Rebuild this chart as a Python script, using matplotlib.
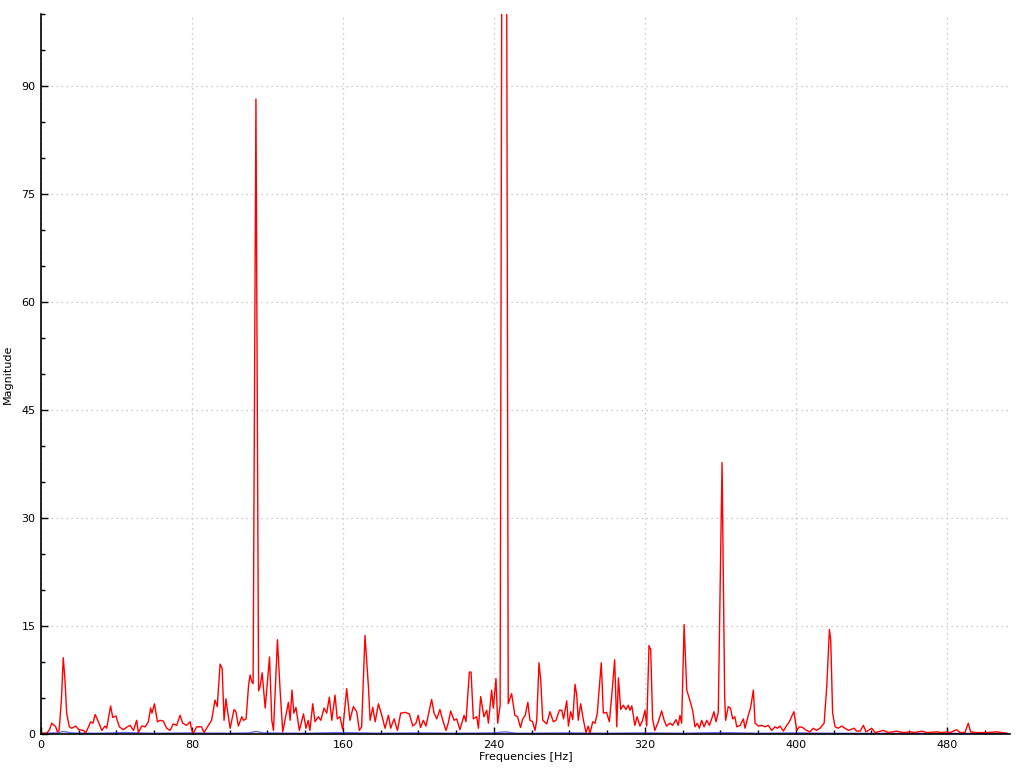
import matplotlib
matplotlib.use("Agg")
import matplotlib.pyplot as plt
from matplotlib.ticker import MultipleLocator

# Red spectrum: (frequency [Hz], magnitude)
red_freq = [0, 3, 4.5, 5.7, 7.8, 8.7, 9.6, 10.8, 11.8, 12.7, 13.6, 15, 16.3, 18.4, 20, 22.6, 23.5,
            25.4, 26.3, 27.5, 28.7, 30.4, 32.2, 33.9, 34.8, 36.9, 38, 39.7, 41.5, 43.6, 45.8, 47.2,
            49, 50.7, 51.6, 53.4, 55.2, 56.9, 58.1, 58.8, 60.1, 61.7, 63.1, 64.8, 66.6, 68.4, 70.1,
            71.9, 73.7, 75.1, 77.2, 79, 79.8, 80.7, 82.5, 85.1,
            86.4, 88.7, 90.4, 92.2, 93.4, 94.9, 96, 97, 98, 98.8, 100.2, 102.3, 103.3, 104.6, 106.4,
            107.3, 108.7, 110, 110.8, 111.6, 112.4, 113.9, 115.3, 116.1, 117.2, 118.8, 121.1, 122.3,
            123.2, 125.3, 126.7, 128.1, 129.8, 131.1, 132, 133, 134, 135.1, 136.9, 139.1, 140.4,
            141.6, 142.5, 144, 145.2, 147, 148.3, 150, 151.4, 152.8, 154.1, 155.8, 157, 158.4, 159.9,
            162, 163.7, 165.5, 167.3, 168.7, 169.9, 171.7, 173.5, 174.4, 175.8, 177.1, 178.8, 180.6,
            182.3, 184.1, 185.3, 187.1, 188.9, 190.6, 193, 195.2, 197, 198.7, 199.9, 201.1, 202.6,
            204, 205.2, 207, 208.3, 209.7, 211.4, 212.9, 214.6, 215.8, 217.1, 218.9, 220.3, 222,
            224.2, 225.2, 227, 227.9, 229.1, 230.9, 231.8, 233, 234.7, 236.2, 237.1, 238.8, 239.7,
            241.1, 242, 243.3, 245, 246, 247.6, 249.4, 251.1, 252.5, 254.1, 255.3, 256.6, 258,
            259.1, 260.5, 261.8, 262.7, 263.9, 264.8, 265.9, 268, 269.7, 271.5, 272.9, 274.7, 276,
            276.9, 278.6, 279.5, 280.7, 281.8, 283, 283.9, 284.7, 286, 287.4, 288.8, 290, 290.9,
            292.4, 293.6, 294.8, 295.9, 296.9, 298, 299.7, 301.2, 302.6, 304, 305.1, 306, 307.2,
            308.6, 310, 311.2, 312.1, 313.1, 314.7, 315.9, 317.4, 318.8, 320.1, 321, 322.2, 323.1,
            324.1, 325.3, 327.1, 328.9, 330.1, 331.5, 333.3, 334.7, 336.5, 337.7, 338.6, 339.5,
            340.8, 342.2, 343.6, 345.3, 346.6, 347.8, 348.9, 350.1, 351.4, 352.8, 354.2, 355.4,
            356.6, 357.7, 358.9, 360.9, 362.3, 362.8, 364.2, 365.4, 366.5, 367.7, 368.7, 370.5,
            372.2, 373.1, 374.8, 376, 377.5, 378.4, 380.2, 381.9, 383.7, 385.4, 387.2, 389, 390.2,
            391.6, 393.4, 395.2, 396.6, 397.9, 399, 400.5, 401.9, 403.6, 405.7, 407.5, 409.3, 411,
            412.8, 415, 416.4, 417.8, 418.5, 419.5, 420.8, 422.5, 424.3, 426, 427.9, 430.8, 432.2,
            434.1, 435.8, 437.2, 440.2, 442, 446.4, 449, 453.4, 456.9, 460.4, 463, 466.7, 469.4,
            474.7, 477.3, 480, 481.8, 485.2, 487, 489.6, 491.4, 492.6, 495.8, 501.1, 506.4, 511.7]
red_mag = [0.1, 0.1, 0.6, 1.5, 1.0, 0.3, 0.5, 4.7, 10.6, 7.5, 2.9, 1.0, 0.8, 1.1, 0.6, 0.5, 0.1,
           1.1, 1.7, 1.5, 2.7, 1.7, 0.5, 1.1, 0.8, 3.9, 2.3, 2.5, 1.0, 0.6, 1.0, 1.2,
           0.5, 1.9, 0.2, 1.1, 1.0, 1.7, 3.6, 2.9, 4.2, 1.7, 1.9, 1.8, 0.8, 0.5, 1.4,
           1.2, 2.6, 1.5, 1.2, 1.7, 0.6, 0.1, 1.0, 1.0,
           0.2, 1.2, 1.9, 4.7, 3.8, 9.7, 9.1, 1.9, 4.9, 3.3, 0.8, 3.4, 3.1, 1.1, 2.4,
           1.9, 2.1, 6.8, 8.2, 7.3, 7.0, 88.2, 6.0, 6.6, 8.5, 3.6, 10.7, 1.9,
           0.5, 13.1, 6.1, 0.3, 2.6, 4.4, 1.9, 6.1, 2.9, 3.7, 0.5, 2.8, 0.8,
           1.9, 0.5, 4.2, 1.7, 2.4, 1.9, 3.6, 2.9, 5.1, 1.9, 5.4, 2.1, 2.4, 0.6,
           6.3, 1.9, 3.8, 3.1, 0.5, 1.0, 13.7, 6.6, 1.9, 3.7, 1.7, 4.2, 2.6,
           0.8, 2.6, 0.8, 2.1, 0.5, 2.9, 3.0, 2.8, 1.1, 1.5, 2.6, 0.9, 1.9,
           1.1, 2.6, 4.8, 2.9, 2.1, 3.4, 1.9, 0.5, 1.5, 3.2, 1.9, 2.1, 0.6,
           2.6, 1.7, 8.6, 8.6, 2.1, 2.4, 0.8, 5.2, 2.4, 3.3, 1.5, 6.1, 3.6,
           7.7, 1.5, 4.0, 200.0, 200.0, 4.2, 5.6, 2.6, 2.4, 0.9, 2.1, 2.6, 4.4,
           1.9, 1.7, 0.5, 1.9, 9.9, 7.5, 1.9, 1.4, 3.1, 1.7, 1.9, 3.3, 3.3,
           2.1, 4.6, 1.1, 3.1, 2.0, 6.9, 5.4, 1.9, 4.2, 2.0, 0.2, 1.1, 0.1,
           1.7, 1.5, 2.9, 6.6, 9.9, 2.9, 3.0, 1.7, 5.8, 10.3, 1.0, 7.8, 3.4,
           4.0, 3.4, 4.0, 3.3, 3.9, 1.2, 2.4, 1.1, 1.9, 3.3, 1.1, 12.3, 11.7,
           2.1, 0.5, 1.7, 3.2, 2.0, 1.1, 1.5, 1.2, 2.0, 1.2, 2.6, 1.5,
           15.2, 6.1, 4.9, 3.3, 1.0, 1.5, 0.8, 1.9, 1.0, 1.9, 1.2, 2.1,
           3.1, 1.7, 3.0, 37.7, 5.0, 1.9, 3.8, 3.6, 2.1, 2.4, 1.0, 1.2,
           2.1, 0.8, 2.6, 3.6, 6.1, 1.5, 1.1, 1.2, 1.0, 1.2, 0.5, 1.0, 0.8,
           1.1, 0.4, 1.2, 1.7, 2.5, 3.1, 0.5, 1.0, 0.9, 0.5, 0.3, 0.8, 0.5,
           0.8, 1.5, 6.6, 14.5, 13.0, 2.9, 1.0, 0.8, 1.1, 0.8, 0.5, 0.8, 0.4,
           0.4, 1.2, 0.3, 0.8, 0.2, 0.5, 0.2, 0.4, 0.2, 0.3, 0.2, 0.4, 0.2,
           0.3, 0.2, 0.3, 0.2, 0.6, 0.2, 0.2, 1.5, 0.3, 0.2, 0.2, 0.3, 0.1]

# Blue series (near zero)
blue_freq = [0, 8, 12, 16, 30, 45, 60, 80, 100, 110, 114, 118, 140, 160, 180, 200, 220,
             240, 246, 252, 280, 300, 320, 340, 360, 380, 400, 420, 440, 480, 512]
blue_mag = [0.1, 0.15, 0.35, 0.15, 0.1, 0.2, 0.1, 0.15, 0.1, 0.15, 0.35, 0.15, 0.1, 0.2,
            0.1, 0.15, 0.1, 0.15, 0.3, 0.1, 0.15, 0.1, 0.15, 0.1, 0.2, 0.1, 0.15, 0.1, 0.1, 0.1, 0.1]

x_major = [0, 80, 160, 240, 320, 400, 480]
y_major = [0, 15, 30, 45, 60, 75, 90]

fig = plt.figure(figsize=(10.24, 7.68), dpi=100)
ax = fig.add_axes([41 / 1024, 34 / 768, 969 / 1024, 720 / 768])

ax.plot(blue_freq, blue_mag, color="#4040ff", lw=1.0, alpha=0.8)
ax.plot(red_freq, red_mag, color="#ff0000", lw=1.0)

ax.set_xlim(0, 513.5)
ax.set_ylim(0, 100)
ax.set_xticks(x_major)
ax.set_yticks(y_major)
ax.xaxis.set_minor_locator(MultipleLocator(20))
ax.yaxis.set_minor_locator(MultipleLocator(5))
ax.tick_params(which="both", direction="in", labelsize=8, colors="black")
ax.tick_params(which="major", length=5, width=1, pad=4)
ax.tick_params(which="minor", length=3, width=1)
ax.grid(True, which="major", linestyle=(0, (1, 3)), color="#bbbbbb", linewidth=0.9)
for s in ["top", "right"]:
    ax.spines[s].set_visible(False)
for s in ["left", "bottom"]:
    ax.spines[s].set_linewidth(1.2)

ax.set_xlabel("Frequencies [Hz]", fontsize=8, labelpad=2)
ax.set_ylabel("Magnitude", fontsize=8, labelpad=6)

fig.savefig("out.png", dpi=100)
